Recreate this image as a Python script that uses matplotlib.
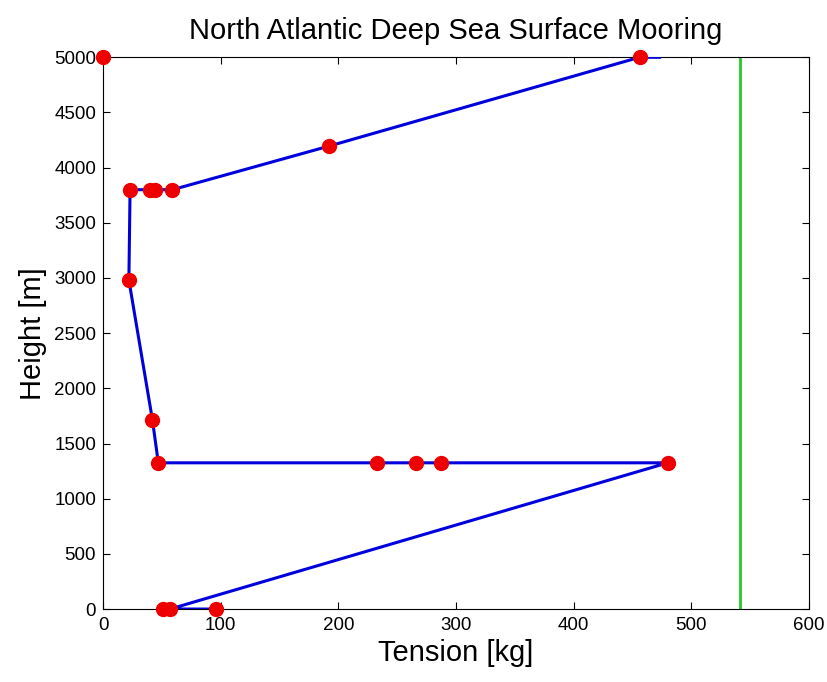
import matplotlib
matplotlib.use("Agg")
import matplotlib.pyplot as plt

# Perfil de tension a lo largo del fondeo (orden del cable)
tension_kg = [473, 456, 192, 59, 44, 40, 23, 22, 42, 47, 233, 266, 287, 480, 57, 51, 96]
altura_m = [5000, 5000, 4195, 3800, 3800, 3800, 3800, 2980, 1715, 1325, 1325, 1325, 1325, 1325, 0, 0, 0]

# Puntos marcados (componentes)
marc_tension = [0, 456, 192, 59, 44, 40, 23, 22, 42, 47, 233, 266, 287, 480, 57, 51, 96]
marc_altura = [5000, 5000, 4195, 3800, 3800, 3800, 3800, 2980, 1715, 1325, 1325, 1325, 1325, 1325, 0, 0, 0]

# Limite de tension
limite_kg = 541

plt.rcParams['font.family'] = ['Liberation Sans', 'DejaVu Sans']

fig = plt.figure(figsize=(8.28, 6.82), dpi=100)
ax = fig.add_axes([0.1244, 0.107, 0.8526, 0.809])

ax.plot(tension_kg, altura_m, color='#0000dd', linewidth=2.2, zorder=3)
ax.plot(marc_tension, marc_altura, linestyle='none', marker='o', markersize=10,
        color='#ee0000', zorder=4, clip_on=False)
ax.axvline(limite_kg, color='#22cc22', linewidth=2)

ax.set_xlim(0, 600)
ax.set_ylim(0, 5000)
ax.set_xticks(range(0, 601, 100))
ax.set_yticks(range(0, 5001, 500))
ax.tick_params(direction='in', top=True, right=True, labelsize=13.5, length=5)
ax.tick_params(axis='x', pad=6)
ax.tick_params(axis='y', pad=5)

ax.set_title('North Atlantic Deep Sea Surface Mooring', fontsize=21, pad=13)
ax.set_xlabel('Tension [kg]', fontsize=21, labelpad=3)
ax.set_ylabel('Height [m]', fontsize=21, labelpad=5)

fig.savefig('out.png', dpi=100)
